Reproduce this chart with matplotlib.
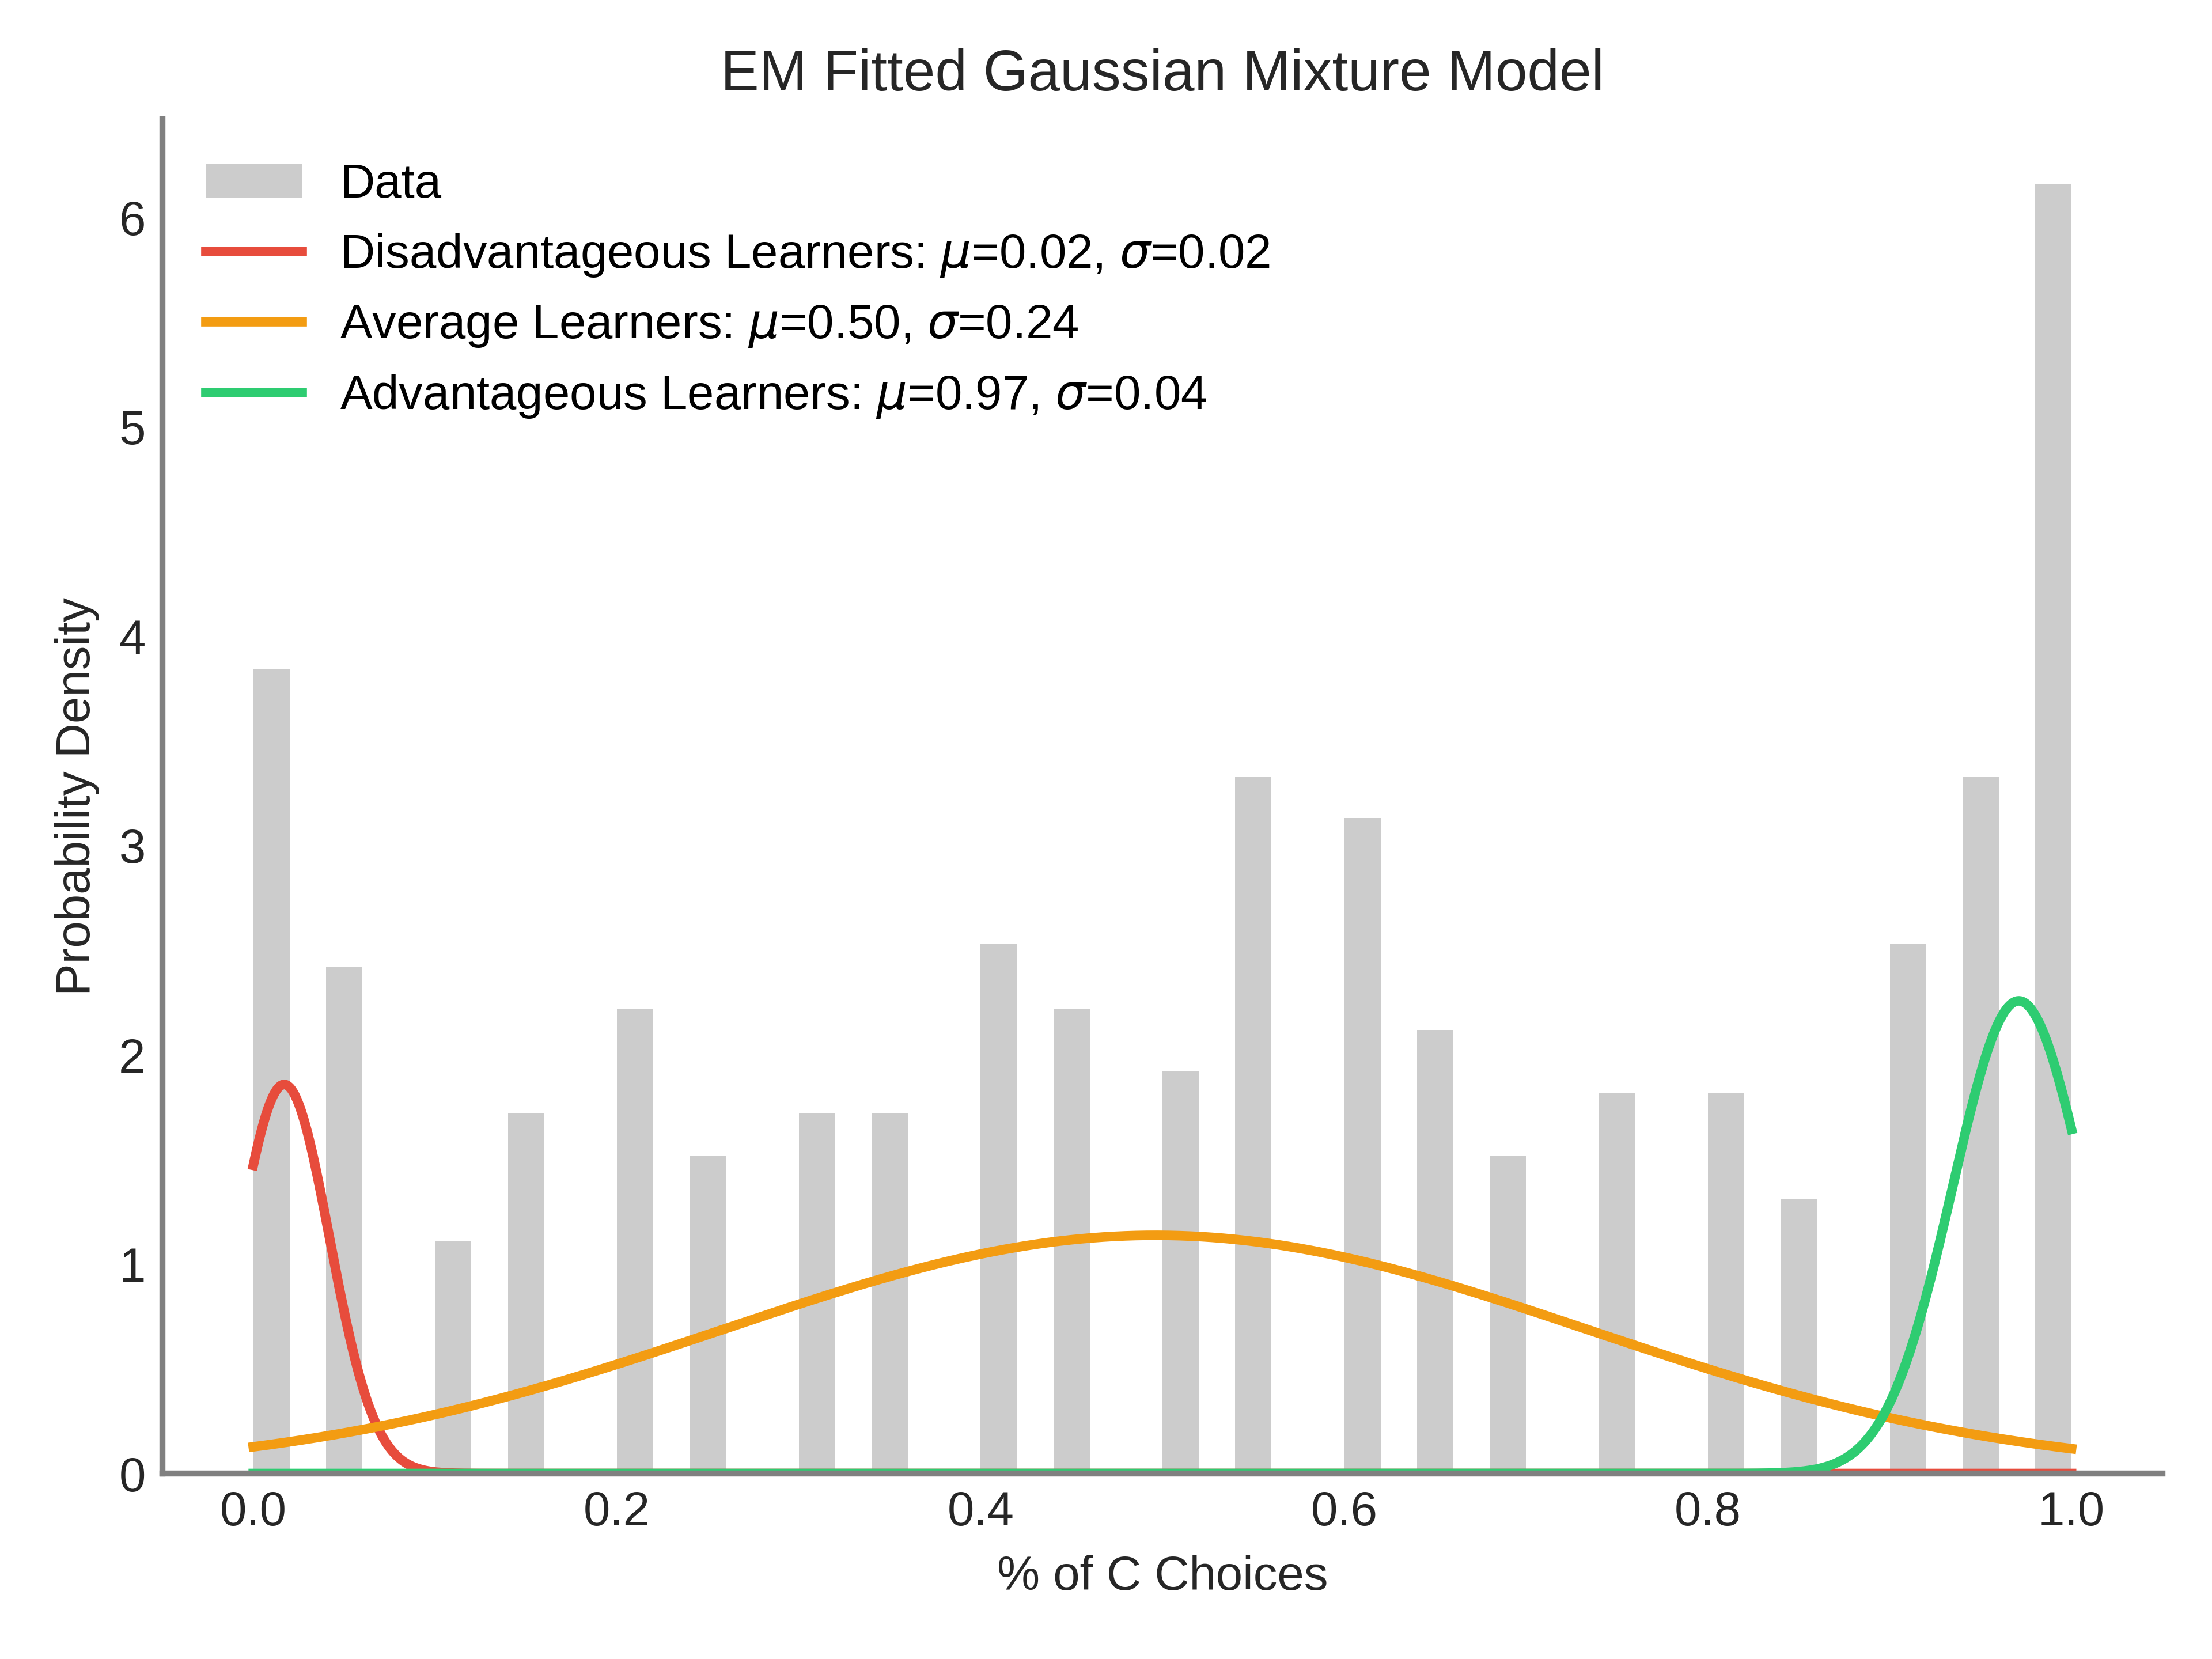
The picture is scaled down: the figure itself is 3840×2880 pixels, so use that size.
import numpy as np
import matplotlib
import matplotlib.pyplot as plt

matplotlib.use('agg')

plt.rcParams['font.family'] = ['Liberation Sans', 'DejaVu Sans']

# histogram bins (left edges, width 0.02) and their density heights
bin_left = [0.00, 0.04, 0.10, 0.14, 0.20, 0.24, 0.30, 0.34, 0.40, 0.44, 0.50,
            0.54, 0.60, 0.64, 0.68, 0.74, 0.80, 0.84, 0.90, 0.94, 0.98]
density = [3.84, 2.42, 1.11, 1.72, 2.22, 1.52, 1.72, 1.72, 2.53, 2.22, 1.92,
           3.33, 3.13, 2.12, 1.52, 1.82, 1.82, 1.31, 2.53, 3.33, 6.16]
bin_width = 0.02

# fitted mixture components
names = ['Disadvantageous Learners', 'Average Learners', 'Advantageous Learners']
mus = [0.017, 0.496, 0.971]
sigmas = [0.0249, 0.237, 0.0364]
weights = [0.116, 0.676, 0.206]
colors = ['#e74c3c', '#f39c12', '#2ecc71']


def gauss(x, mu, sigma):
    return np.exp(-0.5 * ((x - mu) / sigma) ** 2) / (sigma * np.sqrt(2 * np.pi))


fig, ax = plt.subplots(figsize=(6.4, 4.8), dpi=600)

bars = ax.bar(bin_left, density, width=bin_width, align='edge', color='#cccccc',
              linewidth=0, label='Data')

handles = [bars]
x = np.linspace(0, 1, 1000)
for name, mu, sigma, w, c in zip(names, mus, sigmas, weights, colors):
    line, = ax.plot(x, w * gauss(x, mu, sigma), color=c, lw=2,
                    label=f'{name}: $\\mu$={mu:.2f}, $\\sigma$={sigma:.2f}')
    handles.append(line)

ax.set_title('EM Fitted Gaussian Mixture Model', fontsize=12, color='#262626')
ax.set_xlabel('% of C Choices', fontsize=10, color='#262626')
ax.set_ylabel('Probability Density', fontsize=10, color='#262626')
ax.tick_params(length=0, labelsize=10, labelcolor='#262626', pad=3.5)

for side in ['top', 'right']:
    ax.spines[side].set_visible(False)
for side in ['left', 'bottom']:
    ax.spines[side].set_color('#808080')
    ax.spines[side].set_linewidth(1.25)

ax.legend(handles=handles, loc='upper left', frameon=False, fontsize=10)

fig.subplots_adjust(left=0.0734, right=0.9776, bottom=0.1118, top=0.928)
fig.savefig('out.png', dpi=600)
